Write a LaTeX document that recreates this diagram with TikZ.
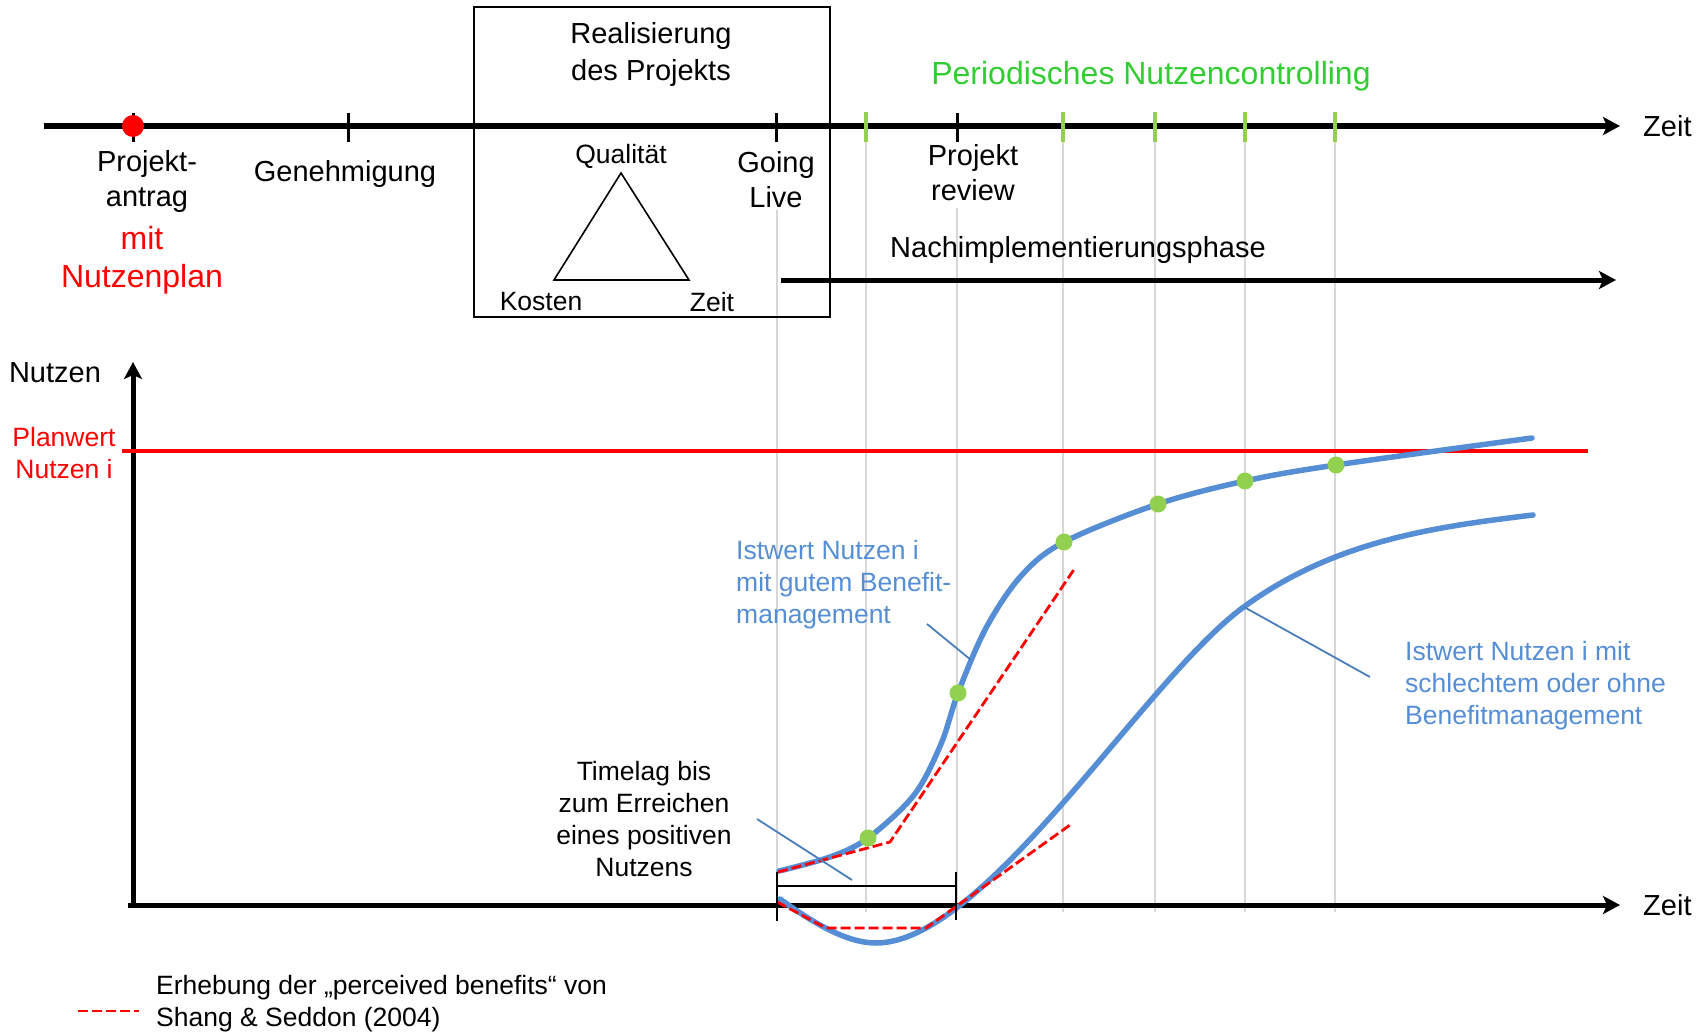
\documentclass[tikz,border=0pt]{standalone}
\usepackage{fontspec}
\setmainfont{Liberation Sans}
\usetikzlibrary{positioning,calc,arrows.meta}
\definecolor{curveblue}{RGB}{85,142,213}
\definecolor{leaderblue}{RGB}{74,126,187}
\definecolor{dotgreen}{RGB}{146,208,80}
\definecolor{txtgreen}{RGB}{51,204,51}
\definecolor{gridgrey}{RGB}{215,215,215}
\tikzset{
  big/.style={font=\fontsize{29}{35}\selectfont,inner sep=0pt,align=center},
  small/.style={font=\fontsize{26.5}{32}\selectfont,inner sep=0pt},
  timeaxis/.style={line width=5.5pt,-{Stealth[length=17pt,width=18pt,inset=4pt]}},
  tickmark/.style={line width=3pt},
  greentick/.style={line width=3.5pt,draw=dotgreen},
  gridline/.style={line width=1.8pt,draw=gridgrey},
  benefit/.style={line width=5.5pt,draw=curveblue,line cap=round},
  perceived/.style={line width=2.8pt,draw=red,dash pattern=on 10pt off 4pt},
  leader/.style={line width=1.8pt,draw=leaderblue},
  gdot/.style={circle,fill=dotgreen,inner sep=0pt,minimum size=17pt}
}
\begin{document}
\begin{tikzpicture}[x=1pt,y=-1pt]
\useasboundingbox (0,0) rectangle (1708,1035);

% grey helper lines
\draw[gridline] (777,210) -- (777,912);
\draw[gridline] (957,208) -- (957,912);
\foreach \x in {866,1063,1155,1245,1335}
  \draw[gridline] (\x,128) -- (\x,912);

% upper time line
\coordinate (t0) at (44,126);
\coordinate (t1) at (1620,126);
\draw[timeaxis] (t0) -- (t1);
\node[big,right=23pt of t1] (zeit1) {Zeit};

\foreach \x in {348,776,957}
  \draw[tickmark] (\x,113) -- (\x,142);
\draw[tickmark] (133,113) -- (133,142);
\foreach \x in {866,1063,1155,1245,1335}
  \draw[greentick] (\x,112) -- (\x,142);
\node[circle,fill=red,inner sep=0pt,minimum size=22pt] (antrag) at (133,126) {};

\node[big] (proj) at (147,182) {Projekt-\\antrag};
\node[big,text=red,font=\fontsize{32}{38}\selectfont] (plan) at (142,260) {mit\\Nutzenplan};
\node[big] (gen) at (345,174) {Genehmigung};
\node[big] (live) at (776,180) {Going\\Live};
\node[big] (review) at (973,173) {Projekt\\review};
\node[big,text=txtgreen,font=\fontsize{32}{38}\selectfont] (ctrl) at (1151,76) {Periodisches Nutzencontrolling};

% realisation box
\draw[line width=2pt] (474,7) rectangle (829.5,317);
\node[big,font=\fontsize{29}{37}\selectfont] (real) at (651,55) {Realisierung\\des Projekts};
\coordinate (qa) at (621,173);
\coordinate (ko) at (554,280);
\coordinate (ze) at (689,280);
\draw[line width=1.6pt,line join=miter] (qa) -- (ze) -- (ko) -- cycle;
\node[small] (qual) at (621,156) {Qualität};
\node[small] (kost) at (541,302) {Kosten};
\node[small] (zeitb) at (712,302) {Zeit};

% post implementation
\coordinate (n0) at (781,280);
\coordinate (n1) at (1616,280);
\draw[timeaxis,line width=5pt] (n0) -- (n1);
\node[big] (nach) at (1078,250) {Nachimplementierungsphase};

% lower chart
\coordinate (o) at (133,905);
\coordinate (ytop) at (133,362);
\coordinate (xend) at (1620,905);
\draw[timeaxis,line width=5pt] (o) -- (ytop);
\draw[timeaxis,line width=5pt] (128,905) -- (xend);
\node[big] (nutz) at (55,373) {Nutzen};
\node[big,right=23pt of xend] (zeit2) {Zeit};

\coordinate (pw0) at (122,451);
\coordinate (pw1) at (1588,451);
\draw[red,line width=4.5pt] (pw0) -- (pw1);
\node[small,text=red,align=center] (pwert) at (64,453) {Planwert\\Nutzen i};

% curves
\draw[benefit] plot[smooth,tension=0.55] coordinates {(779,871) (830,857) (868,838) (914,795) (941,744) (958,693) (986,628) (1021,576) (1064,542) (1158,504) (1245,481) (1336,465) (1532,438)};
\draw[benefit] (780,899) .. controls (812,922) and (846,943) .. (876,943)
  .. controls (986,943) and (1145,678) .. (1245,606)
  .. controls (1335,541) and (1433,527) .. (1533,515);

\draw[perceived] (778,872) -- (890,842) -- (1075,568);
\draw[perceived] (777,902) -- (826,928) -- (926,928) -- (1070,825);

\foreach \x/\y [count=\i] in {868/838,958/693,1064/542,1158/504,1245/481,1336/465}
  \node[gdot] (d\i) at (\x,\y) {};

% time lag bracket
\draw[line width=1.6pt] (777,872) -- (777,921);
\draw[line width=1.6pt] (956,872) -- (956,920);
\draw[line width=1.6pt] (777,886) -- (956,886);

\node[small,align=center] (lag) at (644,819) {Timelag bis\\zum Erreichen\\eines positiven\\Nutzens};
\coordinate (lag-a) at (757,819);
\coordinate (lag-b) at (852,880);
\draw[leader] (lag-a) -- (lag-b);

\node[small,text=curveblue,align=left,anchor=west] (good) at (736,585) {Istwert Nutzen i\\mit gutem Benefit-\\management};
\coordinate (good-a) at (927,624);
\coordinate (good-b) at (971,660);
\draw[leader] (good-a) -- (good-b);

\node[small,text=curveblue,align=left,anchor=west] (bad) at (1405,686) {Istwert Nutzen i mit\\schlechtem oder ohne\\Benefitmanagement};
\coordinate (bad-a) at (1244,607);
\coordinate (bad-b) at (1370,677);
\draw[leader] (bad-a) -- (bad-b);

% legend
\coordinate (lg0) at (78,1011);
\coordinate (lg1) at (139,1011);
\draw[perceived] (lg0) -- (lg1);
\node[small,align=left,anchor=west] (lgtext) at (156,1004) {Erhebung der „perceived benefits“ von\\Shang \& Seddon (2004)};
\end{tikzpicture}
\end{document}
